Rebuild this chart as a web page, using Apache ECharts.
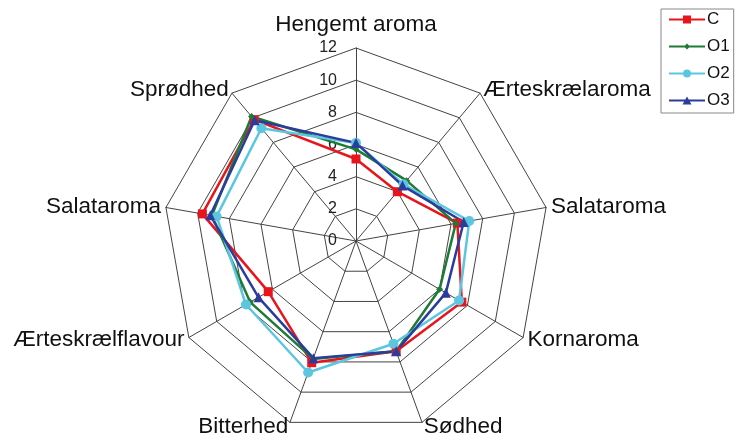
<!DOCTYPE html>
<html>
<head>
<meta charset="utf-8">
<script src="https://cdn.jsdelivr.net/npm/echarts@6/dist/echarts.min.js"></script>
<style>
html,body{margin:0;padding:0;background:#fff;}
#chart{width:740px;height:446px;}
</style>
</head>
<body>
<div id="chart"></div>
<script>
// Attributes (clockwise from top, as read in the picture)
var categories = ['Hengemt aroma', 'Ærteskrælaroma', 'Salataroma', 'Kornaroma', 'Sødhed', 'Bitterhed', 'Ærteskrælflavour', 'Salataroma', 'Sprødhed'];
var seriesNames = ['C', 'O1', 'O2', 'O3'];
var valuesC  = [5.1, 4.0, 6.4, 7.6, 7.3, 8.05, 6.3, 9.7, 9.85];
var valuesO1 = [5.7, 4.9, 6.3, 6.0, 7.3, 7.8, 7.6, 9.1, 10.1];
var valuesO2 = [6.1, 4.6, 7.15, 7.4, 6.8, 8.7, 7.9, 8.8, 9.15];
var valuesO3 = [6.1, 4.5, 6.8, 6.45, 7.3, 7.75, 7.0, 9.2, 9.8];
var axisMax = 12;
var axisSplits = 6;

var colors = ['#e8141c', '#1f7a35', '#5cc6e0', '#2a3d9c'];
var symbols = ['rect', 'diamond', 'circle', 'triangle'];
var symbolSizes = [9, 7, 10, 10];
var legendIcons = [
  'path://M0,4L36,4L36,6L0,6Z M14,1L22,1L22,9L14,9Z',
  'path://M0,4L36,4L36,6L0,6Z M18,2L21,5L18,8L15,5Z',
  'path://M0,4L36,4L36,6L0,6Z M14,5A4,4 0 1,1 22,5A4,4 0 1,1 14,5Z',
  'path://M0,4L36,4L36,6L0,6Z M18,1L22.5,9L13.5,9Z'
];
var allValues = [valuesC, valuesO1, valuesO2, valuesO3];

// ECharts places radar indicators counter-clockwise; reorder so the picture runs clockwise
var order = [0];
for (var k = categories.length - 1; k >= 1; k--) order.push(k);
function reorder(arr) { return order.map(function (i) { return arr[i]; }); }

var chart = echarts.init(document.getElementById('chart'), null, {renderer: 'canvas'});

var indicators = reorder(categories).map(function (c, i) {
  var o = {name: c, max: axisMax, min: 0};
  if (i === 0) {
    o.axisLabel = {show: true};
    o.nameGap = 12;
  }
  return o;
});

var option = {
  backgroundColor: '#ffffff',
  animation: false,
  legend: {
    orient: 'vertical',
    left: 661,
    top: 9,
    padding: [2, 4, 4, 8],
    itemGap: 10,
    itemWidth: 36,
    itemHeight: 10,
    borderColor: '#888',
    borderWidth: 1,
    textStyle: {fontFamily: 'Liberation Sans, Arial, sans-serif', fontSize: 17, color: '#111', padding: [0, 0, 0, -3]},
    data: seriesNames.map(function (n, i) { return {name: n, icon: legendIcons[i]}; })
  },
  radar: {
    center: [356, 241],
    radius: 193,
    startAngle: 90,
    shape: 'polygon',
    splitNumber: axisSplits,
    nameGap: 5,
    axisName: {color: '#111', fontSize: 22.5, fontFamily: 'Liberation Sans, Arial, sans-serif'},
    axisLine: {show: true, lineStyle: {color: '#444', width: 1}},
    splitLine: {show: true, lineStyle: {color: '#444', width: 1}},
    splitArea: {show: false},
    axisTick: {show: false},
    axisLabel: {show: false, color: '#222', fontSize: 16, margin: 19, fontFamily: 'Liberation Sans, Arial, sans-serif'},
    indicator: indicators
  },
  series: [{
    type: 'radar',
    data: seriesNames.map(function (n, i) {
      return {
        name: n,
        value: reorder(allValues[i]),
        symbol: symbols[i],
        symbolSize: symbolSizes[i],
        lineStyle: {color: colors[i], width: 2.5},
        itemStyle: {color: colors[i]}
      };
    })
  }]
};
chart.setOption(option);
</script>
</body>
</html>
